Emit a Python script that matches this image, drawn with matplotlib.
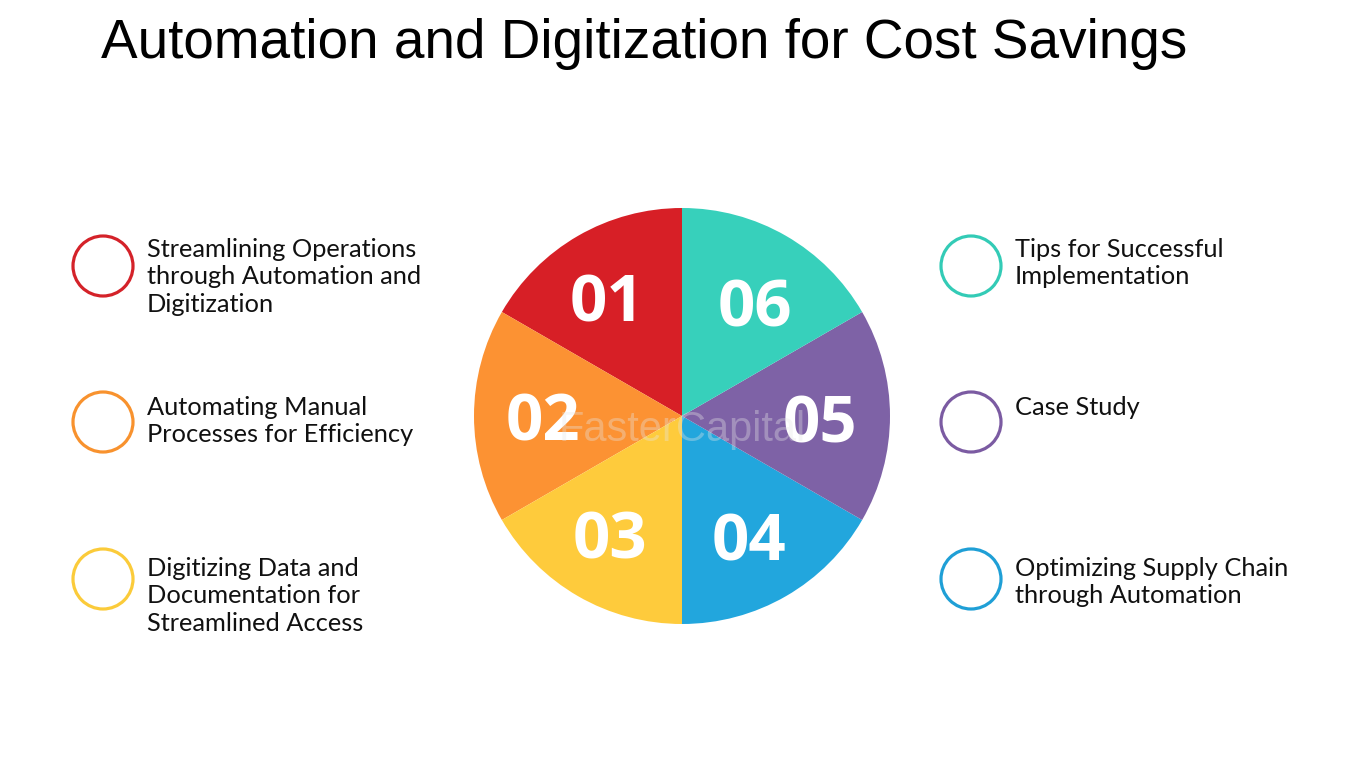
import matplotlib.pyplot as plt
from matplotlib.patches import Circle

# --- dados ---
numeros = ["01", "02", "03", "04", "05", "06"]
fatias = [1, 1, 1, 1, 1, 1]
cores = ["#D71F26", "#FC9233", "#FECB3C", "#22A6DD", "#7E62A6", "#37D0BB"]
cores_anel = ["#D42229", "#F8922E", "#FBCB3A", "#1F9FD6", "#7B5BA2", "#33CBB6"]

titulo = "Automation and Digitization for Cost Savings"
textos_esq = [
    "Streamlining Operations\nthrough Automation and\nDigitization",
    "Automating Manual\nProcesses for Efficiency",
    "Digitizing Data and\nDocumentation for\nStreamlined Access",
]
textos_dir = [
    "Tips for Successful\nImplementation",
    "Case Study",
    "Optimizing Supply Chain\nthrough Automation",
]

W, H = 1350, 759
fig = plt.figure(figsize=(13.5, 7.59), dpi=100)
ax = fig.add_axes([0, 0, 1, 1])

# pizza (coordenadas em pixels, y para cima)
cx, cy, r = 682, H - 416, 208
ax.pie(fatias, colors=cores, startangle=90, counterclock=True,
       center=(cx, cy), radius=r, frame=True,
       wedgeprops=dict(linewidth=0))

# numeros dentro das fatias
pos_num = [(607, 305), (543, 424), (610, 542), (749, 544), (820, 426), (755, 310)]
for n, (x, y) in zip(numeros, pos_num):
    ax.text(x, H - y, n, color="white", fontsize=47, fontweight="bold",
            family="Open Sans", ha="center", va="center")

# marca d'agua
ax.text(682, H - 430, "FasterCapital", color="#e6e6e6", alpha=0.35,
        fontsize=30, family="Liberation Sans", ha="center", va="center")

# aneis + textos
ys = [266, 422, 579]
for i, y in enumerate(ys):
    ax.add_patch(Circle((103, H - y), 30, fill=False, lw=2.3, ec=cores_anel[i]))
    ax.add_patch(Circle((971, H - y), 30, fill=False, lw=2.3, ec=cores_anel[5 - i]))

tops = [238, 396, 557]
for t, y in zip(textos_esq, tops):
    ax.text(147, H - y, t, fontsize=18.3, family="Lato", va="top", ha="left",
            linespacing=1.23, color="#111111")
for t, y in zip(textos_dir, tops):
    ax.text(1015, H - y, t, fontsize=18.3, family="Lato", va="top", ha="left",
            linespacing=1.23, color="#111111")

ax.text(101, H - 44, titulo, fontsize=39.5, family="Liberation Sans",
        ha="left", va="center", color="black")

ax.set_xlim(0, W)
ax.set_ylim(0, H)
ax.set_aspect("equal")
ax.axis("off")

fig.savefig("out.png", dpi=100, facecolor="white")
